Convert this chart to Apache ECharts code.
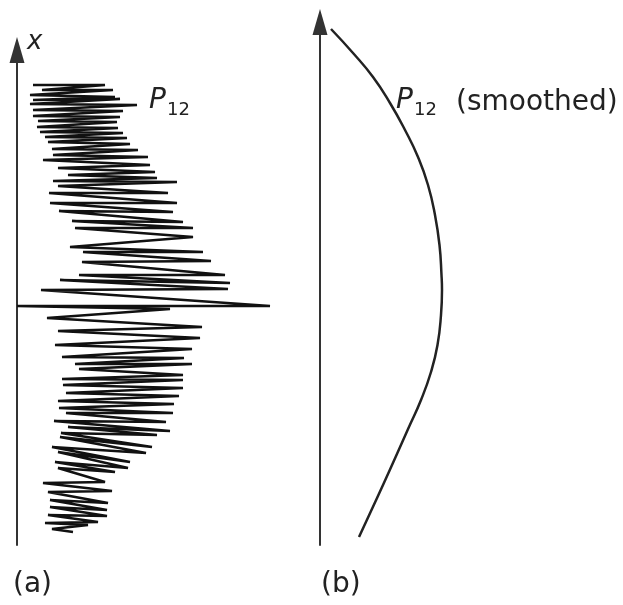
<!DOCTYPE html>
<html>
<head>
<meta charset="utf-8">
<script src="https://cdn.jsdelivr.net/npm/echarts@6/dist/echarts.min.js"></script>
<style>
  html, body { margin: 0; padding: 0; background: #fff; }
  #chart { width: 623px; height: 605px; }
</style>
</head>
<body>
<div id="chart"></div>
<script>
// (a) raw P12 trace: horizontal value and height, in drawing order
const zigH = [16, 88, 25, 96, 13, 98, 16, 103, 13, 120, 16, 106, 16, 103, 21, 100, 20, 101, 23, 106,
  28, 110, 31, 113, 35, 121, 36, 131, 26, 133, 41, 138, 51, 140, 36, 160, 41, 151, 32, 160,
  33, 156, 42, 166, 55, 176, 58, 176, 53, 186, 66, 194, 65, 208, 62, 213, 43, 211, 24, 253,
  0, 153, 30, 185, 41, 183, 38, 175, 45, 167, 58, 175, 62, 166, 45, 166, 46, 166, 49, 162,
  41, 157, 42, 156, 49, 149, 37, 153, 51, 140, 44, 135, 43, 129, 35, 113, 41, 111, 38, 98,
  41, 88, 26, 95, 31, 91, 33, 90, 33, 90, 31, 81, 28, 71, 35, 56];
const zigV = [460, 460, 455, 455, 450, 448, 445, 446, 441, 440, 435, 434, 429, 428, 424, 423, 418, 417, 413, 412,
  408, 407, 403, 401, 396, 395, 390, 388, 385, 380, 377, 373, 370, 367, 364, 363, 359, 352, 352, 342,
  342, 333, 334, 323, 324, 317, 317, 308, 298, 293, 293, 284, 283, 270, 270, 262, 265, 256, 255, 239,
  239, 236, 227, 218, 214, 207, 200, 196, 188, 187, 181, 181, 176, 170, 166, 165, 160, 157, 152, 149,
  144, 141, 137, 132, 132, 123, 124, 114, 118, 110, 112, 98, 108, 92, 98, 83, 93, 77, 83, 73,
  77, 63, 62, 54, 53, 42, 45, 35, 38, 29, 30, 23, 22, 20, 16, 13];

// (b) smoothed P12
const smoothH = [11, 33, 53, 70, 85, 98, 108, 115, 119.5, 121.5, 122, 121, 117.5, 111, 101, 88.5, 76.5, 63, 51.5, 39];
const smoothV = [516, 492, 468, 442, 415, 388, 360, 330, 300, 270, 255, 230, 200, 173, 145, 117, 90, 60, 35, 8];

const zigData = zigH.map((h, i) => [h, zigV[i]]);
const smoothData = smoothH.map((h, i) => [h, smoothV[i]]);

const FONT = '"DejaVu Sans", sans-serif';
const AXIS_COLOR = '#333';

function yAxisOf(gridIndex, max) {
  return {
    type: 'value', gridIndex: gridIndex, min: 0, max: max,
    axisLine: {
      show: true, onZero: false,
      symbol: ['none', 'triangle'], symbolSize: [15, 26],
      lineStyle: { color: AXIS_COLOR, width: 2 }
    },
    axisTick: { show: false },
    axisLabel: { show: false },
    splitLine: { show: false }
  };
}

function txt(x, y, text, size, italic) {
  return {
    type: 'text', x: x, y: y, silent: true,
    style: {
      text: text, fill: '#222',
      font: (italic ? 'italic ' : '') + size + 'px ' + FONT,
      textAlign: 'left', verticalAlign: 'middle'
    }
  };
}

const chart = echarts.init(document.getElementById('chart'));
chart.setOption({
  animation: false,
  backgroundColor: '#fff',
  grid: [
    { left: 17, top: 50, width: 300, height: 495 },
    { left: 320, top: 22, width: 300, height: 523 }
  ],
  xAxis: [
    { type: 'value', gridIndex: 0, min: 0, max: 300, show: false },
    { type: 'value', gridIndex: 1, min: 0, max: 300, show: false }
  ],
  yAxis: [yAxisOf(0, 495), yAxisOf(1, 523)],
  series: [
    {
      type: 'line', xAxisIndex: 0, yAxisIndex: 0,
      data: zigData, showSymbol: false, symbol: 'none',
      lineStyle: { color: '#111', width: 2.5 }
    },
    {
      type: 'line', xAxisIndex: 1, yAxisIndex: 1,
      data: smoothData, showSymbol: false, symbol: 'none',
      smooth: 0.5,
      lineStyle: { color: '#222', width: 2.5 }
    }
  ],
  graphic: [
    txt(27, 42, 'x', 26, true),
    txt(149, 101, 'P', 28, true),
    txt(167, 110, '12', 18, false),
    txt(396, 101, 'P', 28, true),
    txt(414, 110, '12', 18, false),
    txt(456, 103, '(smoothed)', 28, false),
    txt(13, 585, '(a)', 28, false),
    txt(321, 585, '(b)', 28, false)
  ]
});
</script>
</body>
</html>
